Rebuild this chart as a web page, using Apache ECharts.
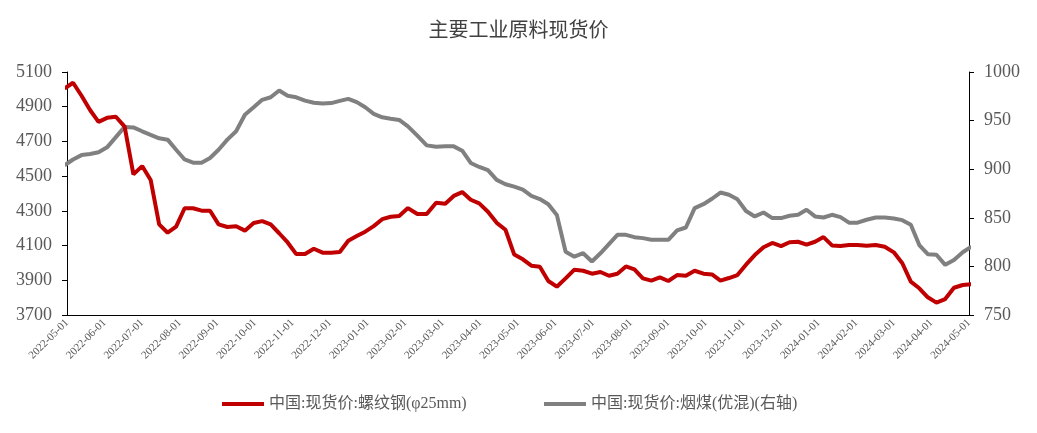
<!DOCTYPE html>
<html>
<head>
<meta charset="utf-8">
<script src="https://cdn.jsdelivr.net/npm/echarts@6/dist/echarts.min.js"></script>
<style>
html,body{margin:0;padding:0;background:#fff;}
#chart{width:1037px;height:433px;}
</style>
</head>
<body>
<div id="chart"></div>
<script>
// weekly dates (Fridays)
var dates = [
'2022-04-29','2022-05-06','2022-05-13','2022-05-20','2022-05-27','2022-06-03','2022-06-10','2022-06-17','2022-06-24',
'2022-07-01','2022-07-08','2022-07-15','2022-07-22','2022-07-29','2022-08-05','2022-08-12','2022-08-19','2022-08-26',
'2022-09-02','2022-09-09','2022-09-16','2022-09-23','2022-09-30','2022-10-07','2022-10-14','2022-10-21','2022-10-28',
'2022-11-04','2022-11-11','2022-11-18','2022-11-25','2022-12-02','2022-12-09','2022-12-16','2022-12-23','2022-12-30',
'2023-01-06','2023-01-13','2023-01-20','2023-01-27','2023-02-03','2023-02-10','2023-02-17','2023-02-24','2023-03-03',
'2023-03-10','2023-03-17','2023-03-24','2023-03-31','2023-04-07','2023-04-14','2023-04-21','2023-04-28','2023-05-05',
'2023-05-12','2023-05-19','2023-05-26','2023-06-02','2023-06-09','2023-06-16','2023-06-23','2023-06-30','2023-07-07',
'2023-07-14','2023-07-21','2023-07-28','2023-08-04','2023-08-11','2023-08-18','2023-08-25','2023-09-01','2023-09-08',
'2023-09-15','2023-09-22','2023-09-29','2023-10-06','2023-10-13','2023-10-20','2023-10-27','2023-11-03','2023-11-10',
'2023-11-17','2023-11-24','2023-12-01','2023-12-08','2023-12-15','2023-12-22','2023-12-29','2024-01-05','2024-01-12',
'2024-01-19','2024-01-26','2024-02-02','2024-02-09','2024-02-16','2024-02-23','2024-03-01','2024-03-08','2024-03-15',
'2024-03-22','2024-03-29','2024-04-05','2024-04-12','2024-04-19','2024-04-26','2024-05-03'
];
// 螺纹钢 (left axis)
var rebar = [
5005,5038,4963,4881,4813,4836,4842,4785,4510,4558,4478,4222,4174,4209,4315,4315,4301,4301,4222,4207,
4211,4186,4230,4241,4222,4171,4118,4051,4051,4082,4059,4059,4063,4128,4155,4180,4212,4252,4266,4271,
4316,4282,4282,4347,4341,4386,4408,4364,4343,4295,4231,4191,4048,4021,3984,3978,3896,3863,3911,3961,
3955,3938,3948,3926,3938,3980,3963,3911,3898,3917,3896,3930,3926,3955,3938,3934,3898,3913,3930,3990,
4045,4090,4115,4097,4119,4122,4105,4122,4149,4101,4097,4103,4103,4099,4103,4093,4061,3998,3892,3854,
3802,3771,3792,3857,3873,3878
];
// 烟煤(优混) (right axis)
var coal = [
904,910,914.5,915.7,917.5,922.5,933,943.5,943,939,935.3,931.8,930.4,920,910,906.7,906.7,911.5,920,930.4,
939,956,963.7,971.4,974,981,975.5,974,970.6,968.3,967.5,968,970.3,972.4,969,963.7,957,953.4,952,950.7,
944,934.5,924.5,923,923.5,923.5,919,906.4,902.3,899,889,884.5,882,879,872.5,869.3,864,853,815,810,
813.6,805,813.5,823,832.5,832.5,830.1,829.1,827.5,827.3,827.3,837,840,860,864,869.6,876,873.7,869,857,
851.4,855.5,849.7,849.7,852.1,853.1,858.3,851.4,850.3,853.1,850.7,845,845,848,850.3,850.3,849.3,847.6,842.8,822,
812.6,812,801.6,806.7,814.6,820.4
];
var startYear = 2022, startMonth = 5; // axis starts at 2022-05-01
var monthCount = 24;                  // axis ends at 2024-05-01
var seriesNames = ['中国:现货价:螺纹钢(φ25mm)', '中国:现货价:烟煤(优混)(右轴)'];
var titleText = '主要工业原料现货价';

function pad(n){return n<10?'0'+n:''+n;}
// date string -> month position on the axis (months since axis start, day as fraction)
function monthPos(s){
  var p=s.split('-'), y=+p[0], m=+p[1], d=+p[2];
  var dim=new Date(y,m,0).getDate();
  return (y-startYear)*12+(m-startMonth)+(d-1)/dim;
}
function monthLabel(v){
  var t=Math.round(v)+startMonth-1;
  var y=startYear+Math.floor(t/12), m=t%12+1;
  return y+'-'+pad(m)+'-01';
}

var serif = '"Liberation Serif","Times New Roman","Noto Sans CJK SC",serif';
var legendText = {fontFamily:serif,fontSize:16,color:'#595959'};
var chart = echarts.init(document.getElementById('chart'), null, {renderer:'canvas'});
chart.setOption({
  backgroundColor:'#fff',
  animation:false,
  title:{text:titleText,left:'center',top:17,textStyle:{fontFamily:serif,fontSize:20,fontWeight:'normal',color:'#404040'}},
  legend:[{
    bottom:16,left:217,itemWidth:42,itemHeight:4,icon:'rect',
    textStyle:legendText,data:[seriesNames[0]]
  },{
    bottom:16,left:539,itemWidth:42,itemHeight:4,icon:'rect',
    textStyle:legendText,data:[seriesNames[1]]
  }],
  grid:{left:67,right:68,top:72,bottom:118},
  xAxis:{
    type:'value',min:0,max:monthCount,interval:1,
    axisLine:{onZero:false,lineStyle:{color:'#000',width:1}},
    axisTick:{show:false},
    splitLine:{show:false},
    axisLabel:{
      rotate:45,margin:6,fontSize:11,color:'#595959',fontFamily:serif,
      showMinLabel:true,showMaxLabel:true,
      formatter:function(v){return monthLabel(v);}
    }
  },
  yAxis:[{
    type:'value',min:3700,max:5100,interval:200,position:'left',
    axisLine:{show:true,lineStyle:{color:'#000'}},
    axisTick:{show:true,length:5,lineStyle:{color:'#000'}},
    splitLine:{show:false},
    axisLabel:{fontSize:18,color:'#595959',fontFamily:serif,margin:15,formatter:function(v){return String(v);}}
  },{
    type:'value',min:750,max:1000,interval:50,position:'right',
    axisLine:{show:true,lineStyle:{color:'#000'}},
    axisTick:{show:true,length:5,lineStyle:{color:'#000'}},
    splitLine:{show:false},
    axisLabel:{fontSize:18,color:'#595959',fontFamily:serif,margin:15,formatter:function(v){return String(v);}}
  }],
  series:[{
    name:seriesNames[0],type:'line',yAxisIndex:0,showSymbol:false,symbol:'none',
    lineStyle:{color:'#C00000',width:4},itemStyle:{color:'#C00000'},
    data:dates.map(function(d,i){return [monthPos(d),rebar[i]];}),z:3
  },{
    name:seriesNames[1],type:'line',yAxisIndex:1,showSymbol:false,symbol:'none',
    lineStyle:{color:'#808080',width:4},itemStyle:{color:'#808080'},
    data:dates.map(function(d,i){return [monthPos(d),coal[i]];}),z:2
  }]
});
</script>
</body>
</html>
